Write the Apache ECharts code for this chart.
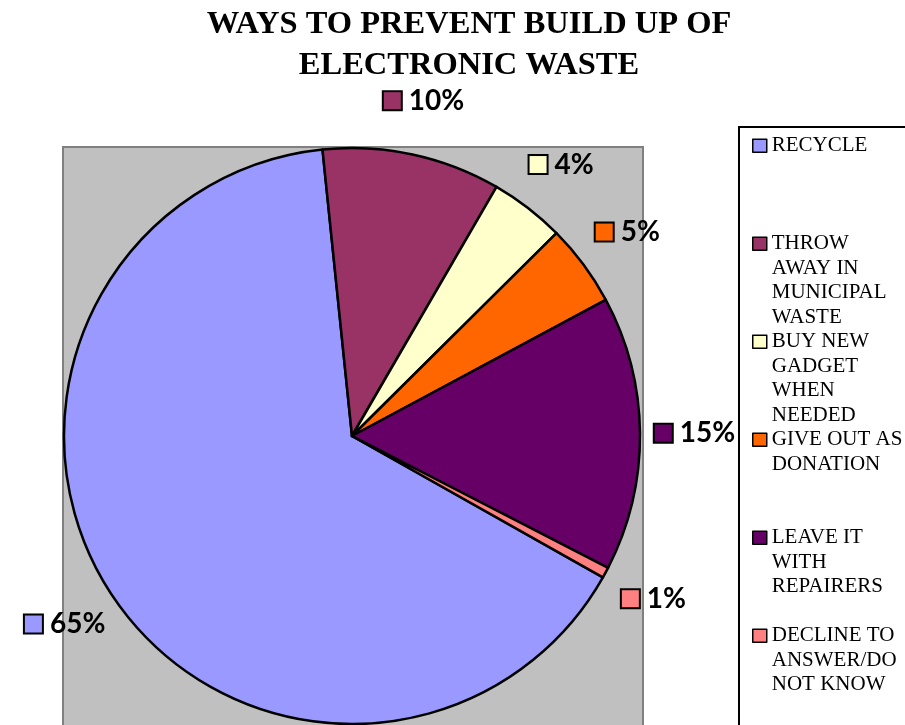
<!DOCTYPE html>
<html>
<head>
<meta charset="utf-8">
<script src="https://cdn.jsdelivr.net/npm/echarts@6/dist/echarts.min.js"></script>
<style>
    html, body { margin: 0; padding: 0; background: #fff; }
    #chart { width: 905px; height: 725px; }
</style>
</head>
<body>
<div id="chart"></div>
<script>
// chart data
const categories = [
    'RECYCLE',
    'THROW AWAY IN MUNICIPAL WASTE',
    'BUY NEW GADGET WHEN NEEDED',
    'GIVE OUT AS DONATION',
    'LEAVE IT WITH REPAIRERS',
    'DECLINE TO ANSWER/DO NOT KNOW'
];
const legendLines = [
    'RECYCLE',
    'THROW\nAWAY IN\nMUNICIPAL\nWASTE',
    'BUY NEW\nGADGET\nWHEN\nNEEDED',
    'GIVE OUT AS\nDONATION',
    'LEAVE IT\nWITH\nREPAIRERS',
    'DECLINE TO\nANSWER/DO\nNOT KNOW'
];
const values = [65.2, 10, 4.2, 4.6, 15.4, 0.6];
const colors = ['#9999FF', '#993366', '#FFFFCC', '#FF6600', '#660066', '#FF8080'];

const chart = echarts.init(document.getElementById('chart'));

// legend text: pad to 7 lines so the first line sits beside the icon
function padLegend(name) {
    let lines = legendLines[categories.indexOf(name)].split('\n');
    let out = ['', '', ''].concat(lines);
    while (out.length < 7) out.push('');
    return out.join('\n');
}

let rich = {
    t: {
        fontFamily: 'Lato',
        fontWeight: 'bold',
        fontSize: 28,
        color: '#000',
        padding: [0, 0, 0, 8]
    }
};
colors.forEach((c, i) => {
    rich['k' + i] = {
        width: 17,
        height: 17,
        backgroundColor: c,
        borderColor: '#000',
        borderWidth: 2
    };
});

chart.setOption({
    animation: false,
    color: colors,
    title: {
        text: 'WAYS TO PREVENT BUILD UP OF\nELECTRONIC WASTE',
        left: 464,
        top: -1,
        textAlign: 'center',
        textStyle: {
            fontFamily: 'Liberation Serif',
            fontWeight: 'bold',
            fontSize: 32.5,
            lineHeight: 41,
            color: '#000'
        }
    },
    graphic: [
        {
            type: 'rect',
            z: -10,
            shape: {x: 63, y: 147, width: 580, height: 590},
            style: {fill: '#C0C0C0', stroke: '#808080', lineWidth: 2}
        },
        {
            type: 'rect',
            z: -10,
            shape: {x: 739, y: 127, width: 180, height: 610},
            style: {fill: 'none', stroke: '#000', lineWidth: 2}
        }
    ],
    legend: {
        orient: 'vertical',
        left: 747,
        top: 55,
        height: 720,
        itemGap: -73.5,
        itemWidth: 14,
        itemHeight: 13,
        icon: 'rect',
        itemStyle: {borderColor: '#000', borderWidth: 1.5},
        data: categories,
        formatter: padLegend,
        textStyle: {
            fontFamily: 'Liberation Serif',
            fontSize: 21,
            lineHeight: 24.5,
            color: '#000'
        }
    },
    series: [{
        type: 'pie',
        center: [352, 436],
        radius: [0, 288],
        startAngle: -29.4,
        clockwise: true,
        avoidLabelOverlap: false,
        itemStyle: {borderColor: '#000', borderWidth: 2.5},
        emphasis: {scale: false},
        label: {
            show: true,
            position: 'outside',
            distanceToLabelLine: 0,
            overflow: 'none',
            formatter: p => '{k' + p.dataIndex + '|}{t|' + Math.round(p.percent) + '%}',
            rich: rich
        },
        labelLine: {show: false, length: 55, length2: 0},
        labelLayout: {align: 'center'},
        data: categories.map((name, i) => ({name: name, value: values[i]}))
    }]
});
</script>
</body>
</html>
